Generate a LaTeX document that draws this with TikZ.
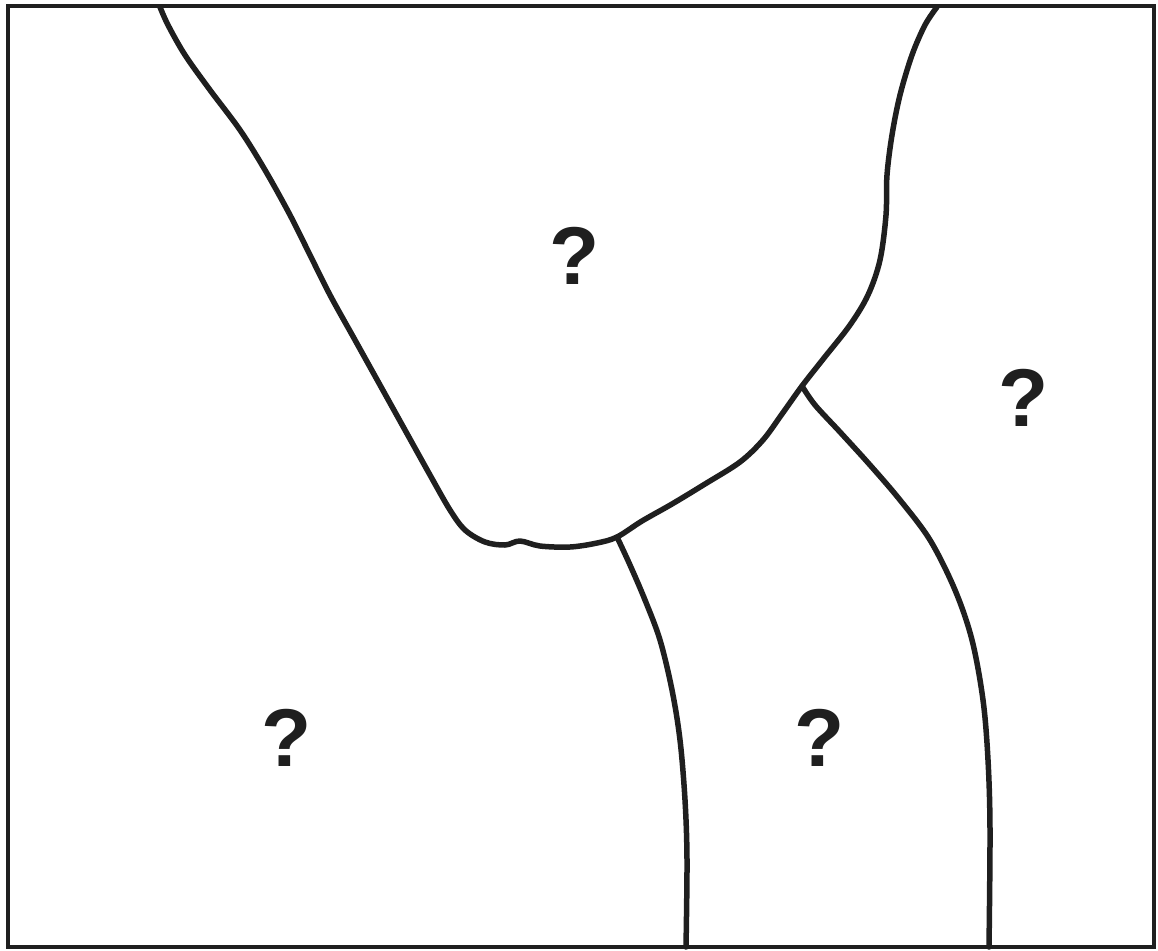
\documentclass[tikz,border=0pt]{standalone}
\usepackage{fontspec}
\setmainfont{Liberation Sans}
\begin{document}
\begin{tikzpicture}[x=1pt,y=-1pt,
  boundary/.style={line width=5.5pt,line cap=round,line join=round,color=black!88},
  frame/.style={line width=3.5pt,color=black!88},
  qmark/.style={font=\bfseries\fontsize{82}{82}\selectfont,text=black!88,inner sep=0pt}]
\useasboundingbox (0,0) rectangle (1158,950);
\draw[frame] (8,6) rectangle (1154,947);
\coordinate (j1) at (617,537);
\coordinate (j2) at (802,386);
\draw[boundary] plot[smooth,tension=0.55] coordinates {
 (160,7) (168,25) (185,55) (210,90) (240,130) (265,170) (290,215) (310,255)
 (330,295) (355,340) (380,385) (405,430) (430,475) (450,510) (465,530)
 (485,542) (505,545) (520,541) (540,546) (570,547) (597,543) (617,537)
 (642,521) (672,504) (705,484) (740,462) (763,440) (782,414) (802,386)
 (824,358) (850,325) (868,295) (880,260) (886,215) (887,175) (892,135)
 (900,95) (912,55) (925,25) (937,7)};
\draw[boundary] plot[smooth,tension=0.55] coordinates {
 (j1) (630,565) (645,600) (660,640) (672,690) (680,740) (685,800) (687,860) (686,947)};
\draw[boundary] plot[smooth,tension=0.55] coordinates {
 (j2) (815,405) (840,432) (870,465) (900,500) (930,540) (955,590) (972,640) (983,700) (988,760) (990,830) (989,947)};
\node[qmark] (q1) at (575,256) {?};
\node[qmark] (q2) at (1024,398) {?};
\node[qmark] (q3) at (287,738) {?};
\node[qmark] (q4) at (820,738) {?};
\end{tikzpicture}
\end{document}
